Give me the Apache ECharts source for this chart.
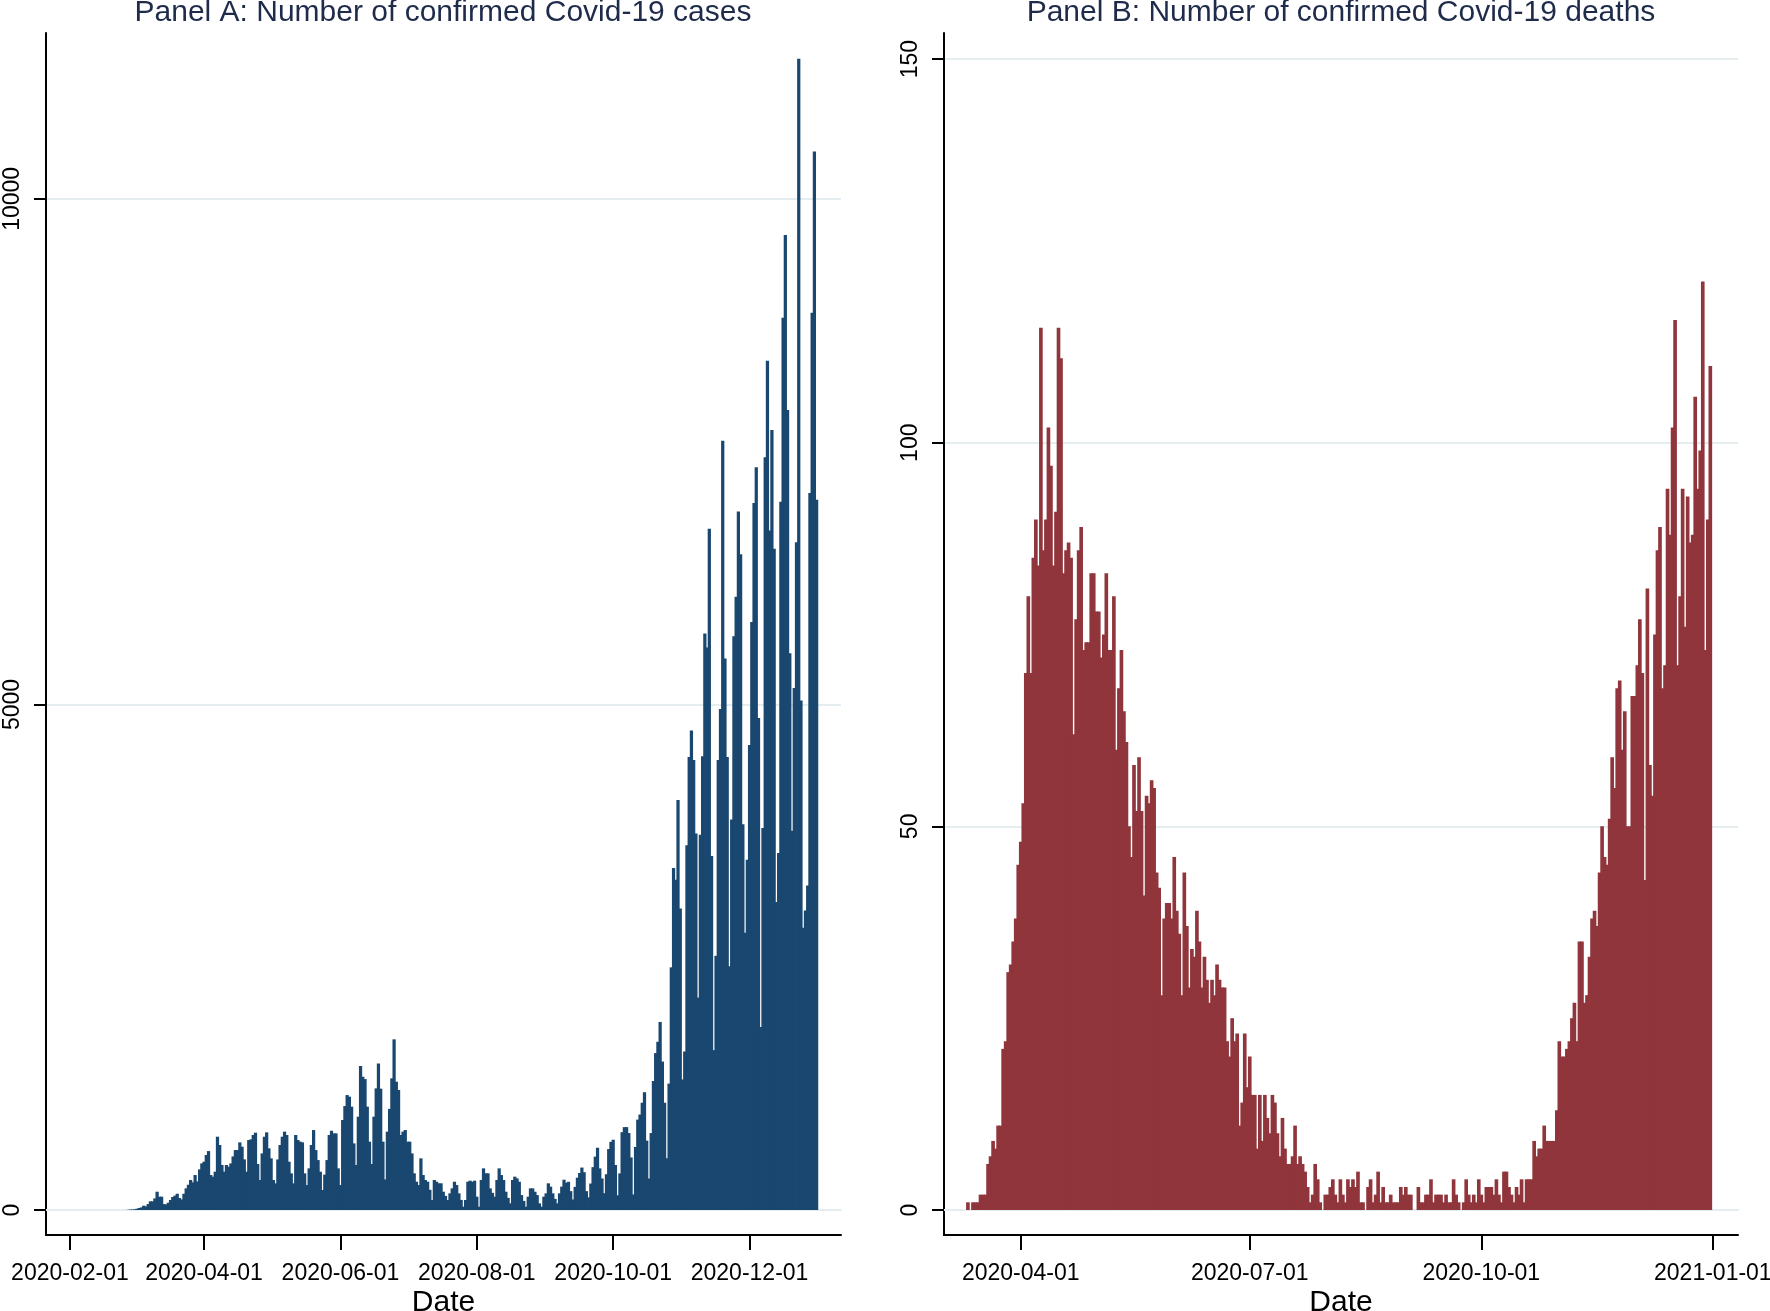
<!DOCTYPE html>
<html>
<head>
<meta charset="utf-8">
<script src="https://cdn.jsdelivr.net/npm/echarts@6/dist/echarts.min.js"></script>
<style>
  html, body { margin: 0; padding: 0; background: #fff; }
  #chart { width: 1770px; height: 1311px; }
</style>
</head>
<body>
<div id="chart"></div>
<script>
// ── Data: daily counts, one value per day starting at the given date ──
const casesStart = '2020-02-27';
const cases = [
  2, 5, 5, 8, 13, 20, 26, 43, 36, 59, 86, 86, 115, 181, 132, 132, 59, 56, 72, 99, 129, 142, 161, 119, 105, 161,
  214, 250, 297, 274, 346, 283, 402, 461, 478, 544, 583, 346, 330, 379, 725, 643, 445, 379, 445, 428,
  461, 530, 593, 593, 669, 626, 501, 379, 692, 699, 742, 765, 455, 297, 560, 725, 768, 610, 511, 297,
  264, 500, 643, 725, 775, 742, 478, 363, 264, 742, 692, 676, 669, 363, 247, 412, 643, 791, 593, 494,
  379, 198, 350, 494, 742, 784, 758, 758, 412, 247, 890, 1028, 1137, 1121, 1022, 659, 445,
  923, 1424, 1318, 1295, 1022, 676, 455, 923, 1203, 1450, 1200, 676, 303, 775, 1000, 1302, 1688, 1269, 1187, 742,
  775, 791, 676, 676, 560, 363, 280, 247, 511, 346, 297, 280, 200, 99, 297, 280, 264, 264, 181, 140,
  99, 165, 214, 280, 247, 165, 100, 33, 99, 280, 290, 280, 290, 132, 33, 297, 412, 363, 363, 214,
  170, 132, 297, 412, 346, 297, 181, 120, 66, 297, 330, 313, 280, 148, 90, 33, 132, 214, 214, 181,
  148, 66, 33, 132, 165, 264, 231, 165, 110, 66,
  165, 231, 300, 270, 279, 187, 104, 229, 320, 366, 420, 374, 187, 125, 262, 424, 528, 616, 412, 312,
  166, 354, 603, 674, 695, 445, 146, 362, 770, 820, 820, 761, 520, 154, 624, 894, 944, 1061, 1165, 686,
  312, 761, 1277, 1552, 1664, 1860, 1468, 1061, 512, 1250,
  2400, 3382, 3266, 4056, 2983, 1290, 1568, 3607, 4480, 4742, 4451, 3723, 2101, 3710, 4488, 5702, 5562, 6738, 3501, 1581,
  2514, 4450, 4954, 7608, 5455, 4480, 2412, 3861, 5675, 6066, 6909, 6484, 3816, 2742, 3463, 4600, 5816, 6992, 7345, 4867,
  1810, 3778, 7444, 8399, 6719, 7714, 6540, 3045, 3531, 7004, 8825, 9642, 7911, 5505, 3752, 5163, 6605, 11386, 5040, 2791,
  2962, 3209, 7091, 8874, 10468, 7023
];

const deathsStart = '2020-03-11';
const deaths = [
  1, 0, 1, 1, 1, 2, 2, 2, 6, 7, 9, 8, 11, 11, 21, 22, 31, 32, 35, 38,
  45, 48, 53, 70, 80, 70, 85, 90, 84, 115, 86, 90, 102, 97, 84, 91, 115, 111, 83, 86,
  87, 85, 62, 77, 86, 89, 73, 74, 74, 83, 83, 78, 78, 72, 75, 83, 73, 73, 80, 60,
  68, 73, 65, 61, 50, 46, 58, 52, 59, 52, 41, 54, 53, 56, 55, 44, 42, 28, 38, 40,
  40, 38, 46, 39, 36, 28, 44, 37, 29, 34, 33, 39, 35, 29, 33, 30, 27, 30, 28, 32,
  30, 29, 29, 22, 20, 25, 22, 23, 11, 14, 23, 16, 20, 15,
  15, 8, 15, 9, 15, 12, 10, 15, 14, 10, 7, 12, 8, 6, 6, 7, 11, 6, 7, 6,
  5, 3, 1, 2, 6, 4, 1, 0, 2, 2, 3, 4, 2, 1, 4, 2, 1, 4, 3, 4,
  3, 5, 1, 1, 0, 3, 4, 1, 2, 5, 1, 3, 1, 1, 2, 1, 1, 1, 3, 2,
  3, 2, 2, 0, 0, 3, 1, 1, 2, 2, 4, 1, 2, 2, 2, 1, 2, 1, 1, 4,
  2, 1, 0, 1, 4, 2, 1, 2, 1, 4, 2, 1, 3, 3, 3, 2, 4, 2, 1, 5,
  5, 3, 2, 1, 3, 2, 4, 1, 4, 4,
  4, 9, 7, 8, 8, 11, 9, 9, 9, 9, 13, 22, 20, 20, 21, 22, 25, 27, 22, 35,
  35, 27, 28, 33, 38, 39, 37, 44, 50, 46, 45, 51, 59, 55, 68, 69, 60, 65, 50, 50,
  67, 67, 71, 77, 70, 43, 81, 58, 54, 75, 86, 89, 68, 71, 94, 88, 102, 116, 71, 80,
  94, 76, 93, 87, 88, 106, 94, 99, 121, 73, 90, 110
];

const casesTickLabels = ['2020-02-01', '2020-04-01', '2020-06-01', '2020-08-01', '2020-10-01', '2020-12-01'];
const deathsTickLabels = ['2020-04-01', '2020-07-01', '2020-10-01', '2021-01-01'];
const casesYTicks = [0, 5000, 10000];
const deathsYTicks = [0, 50, 100, 150];

// ── Helpers: dates <-> day number (days since 2020-01-01) ──
const DAY = 86400000;
const ORIGIN = Date.UTC(2020, 0, 1);
const dayOf = s => Math.round((Date.parse(s + 'T00:00:00Z') - ORIGIN) / DAY);
const dateOf = d => new Date(ORIGIN + Math.round(d) * DAY).toISOString().slice(0, 10);
const toPoints = (start, values) => values.map((v, i) => [dayOf(start) + i, v]);

const FONT = '"Liberation Sans", Arial, sans-serif';
const GRID_LINE = '#e4edf0';
const TITLE_COLOR = '#1f2b4a';

function titleFor(text, centerX) {
  return {
    text,
    left: centerX,
    top: -2,
    padding: 0,
    textAlign: 'center',
    textStyle: { fontFamily: FONT, fontSize: 30, fontWeight: 'normal', color: TITLE_COLOR }
  };
}

function dateAxis(gridIndex, min, max, ticks) {
  const tickDays = ticks.map(dayOf);
  return {
    type: 'value', gridIndex, min, max, position: 'bottom',
    name: 'Date', nameLocation: 'middle', nameGap: 53, nameMoveOverlap: false,
    nameTextStyle: { fontFamily: FONT, fontSize: 30, color: '#000' },
    axisLine: { show: true, onZero: false, lineStyle: { color: '#000', width: 2 } },
    axisTick: { show: true, length: 15, customValues: tickDays, lineStyle: { color: '#000', width: 2 } },
    axisLabel: {
      customValues: tickDays, margin: 27, fontFamily: FONT, fontSize: 23, color: '#000',
      formatter: v => dateOf(v)
    },
    splitLine: { show: false }
  };
}

function topEdge(gridIndex, min, max) {
  return {
    type: 'value', gridIndex, min, max, position: 'top',
    axisLine: { show: true, lineStyle: { color: GRID_LINE, width: 2 } },
    axisTick: { show: false }, axisLabel: { show: false }, splitLine: { show: false }
  };
}

function countAxis(gridIndex, min, max, ticks) {
  return {
    type: 'value', gridIndex, min, max,
    axisLine: { show: true, lineStyle: { color: '#000', width: 2 } },
    axisTick: { show: true, length: 12, customValues: ticks, lineStyle: { color: '#000', width: 2 } },
    axisLabel: {
      customValues: ticks, rotate: 90, margin: 22, fontFamily: FONT, fontSize: 23, color: '#000',
      formatter: v => String(v)
    },
    splitLine: { show: true, customValues: ticks, lineStyle: { color: GRID_LINE, width: 2 } }
  };
}

const chart = echarts.init(document.getElementById('chart'), null, { renderer: 'canvas' });

chart.setOption({
  animation: false,
  backgroundColor: '#fff',
  title: [
    titleFor('Panel A: Number of confirmed Covid-19 cases', 443),
    titleFor('Panel B: Number of confirmed Covid-19 deaths', 1341)
  ],
  grid: [
    { left: 46, right: 929, top: 33, bottom: 76, outerBoundsMode: 'none' },
    { left: 944, right: 32, top: 33, bottom: 76, outerBoundsMode: 'none' }
  ],
  xAxis: [
    dateAxis(0, 20.3, 375.9, casesTickLabels),
    dateAxis(1, 60.5, 376, deathsTickLabels),
    topEdge(0, 20.3, 375.9),
    topEdge(1, 60.5, 376)
  ],
  yAxis: [
    countAxis(0, -247, 11640, casesYTicks),
    countAxis(1, -3.26, 153.4, deathsYTicks)
  ],
  series: [
    {
      name: 'Cases', type: 'bar', xAxisIndex: 0, yAxisIndex: 0,
      barWidth: '145%',
      itemStyle: { color: '#1a476f' },
      data: toPoints(casesStart, cases)
    },
    {
      name: 'Deaths', type: 'bar', xAxisIndex: 1, yAxisIndex: 1,
      barWidth: '145%',
      itemStyle: { color: '#90353b' },
      data: toPoints(deathsStart, deaths)
    }
  ]
});
</script>
</body>
</html>
